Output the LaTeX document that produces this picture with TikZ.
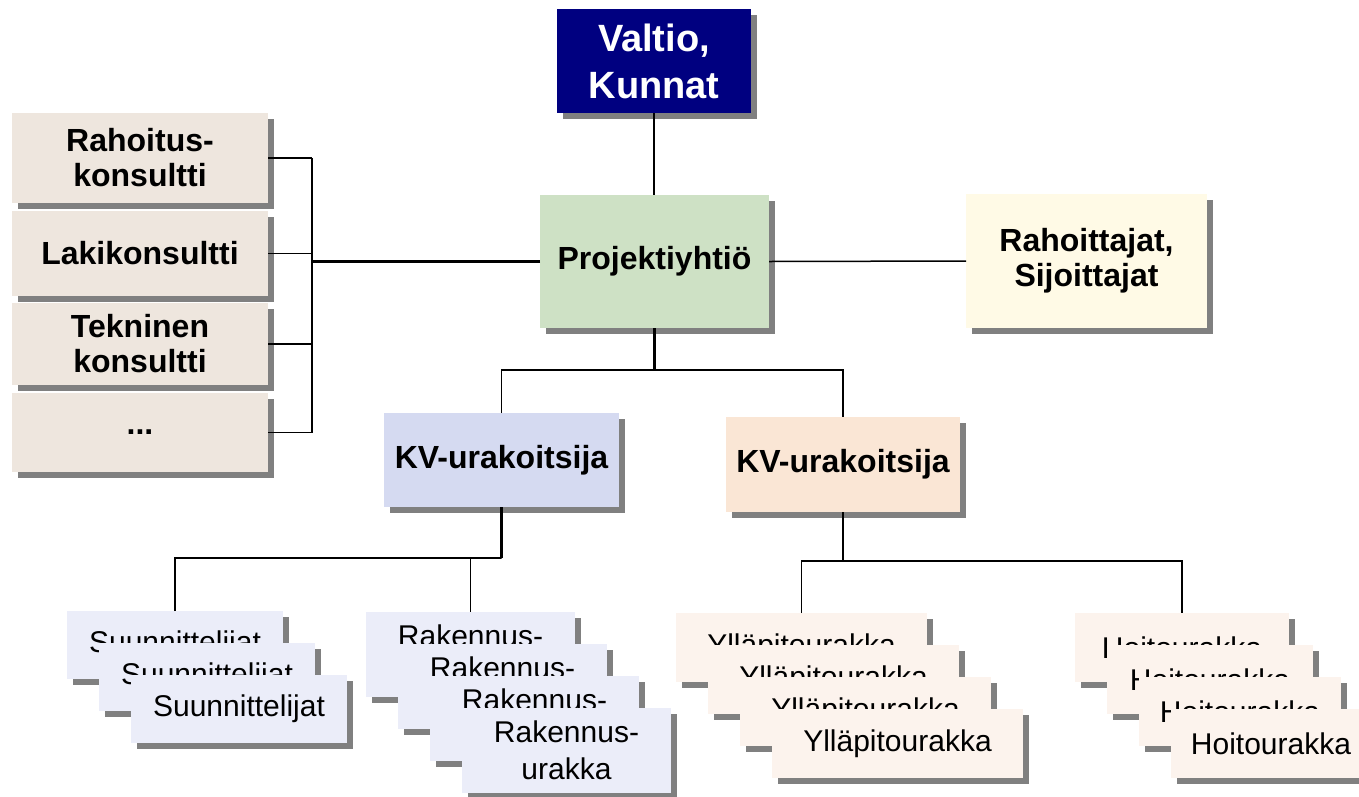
\documentclass[tikz,border=0pt]{standalone}
\usepackage{fontspec}
\setmainfont{Liberation Sans}
\usetikzlibrary{shadows}
\definecolor{valtioblue}{RGB}{0,0,128}
\definecolor{projgreen}{RGB}{206,225,197}
\definecolor{konsbeige}{RGB}{238,230,222}
\definecolor{rahyellow}{RGB}{255,250,230}
\definecolor{kvblue}{RGB}{213,218,241}
\definecolor{kvpeach}{RGB}{250,230,213}
\definecolor{subblue}{RGB}{235,237,249}
\definecolor{subpeach}{RGB}{252,243,237}
\tikzset{
  box/.style={inner sep=0pt,outer sep=0pt,align=center,
    drop shadow={shadow xshift=6pt,shadow yshift=-6pt,fill=black!50,opacity=1}},
  bigbox/.style={box,font=\fontsize{32}{35}\selectfont\bfseries},
  subbox/.style={box,font=\fontsize{30}{37}\selectfont},
  tie/.style={line width=1.5pt},
  maintie/.style={line width=2.5pt}
}

\begin{document}
\begin{tikzpicture}[x=1pt,y=-1pt]
\useasboundingbox (0,0) rectangle (1359,796);
% top of the tree
\node[bigbox,fill=valtioblue,text=white,font=\fontsize{38}{47}\selectfont\bfseries,
  minimum width=194pt,minimum height=104pt] (valtio) at (654,61) {Valtio,\\Kunnat};
\node[bigbox,fill=projgreen,minimum width=229pt,minimum height=133pt] (proj) at (654.5,261.5) {Projektiyhtiö};
\node[bigbox,fill=rahyellow,minimum width=241pt,minimum height=134pt] (rah) at (1086.5,261) {Rahoittajat,\\Sijoittajat};
% consultants
\node[bigbox,fill=konsbeige,minimum width=256pt,minimum height=90pt] (k1) at (140,158) {Rahoitus-\\konsultti};
\node[bigbox,fill=konsbeige,minimum width=256pt,minimum height=85pt] (k2) at (140,253.5) {Lakikonsultti};
\node[bigbox,fill=konsbeige,minimum width=256pt,minimum height=82pt] (k3) at (140,344) {Tekninen\\konsultti};
\node[bigbox,fill=konsbeige,minimum width=256pt,minimum height=79pt] (k4) at (140,432.5) {...};
\coordinate (brk) at (312,0);
% contractors
\node[bigbox,fill=kvblue,minimum width=235pt,minimum height=94pt] (kvA) at (501.5,460) {KV-urakoitsija};
\node[bigbox,fill=kvpeach,minimum width=234pt,minimum height=95pt] (kvB) at (843,464.5) {KV-urakoitsija};
% stacks of sub-contracts
\foreach \i in {0,...,2}
  \node[subbox,fill=subblue,minimum width=216pt,minimum height=68pt] (s\i) at (175+32*\i,645+32*\i) {Suunnittelijat};
\foreach \i in {0,...,3}
  \node[subbox,fill=subblue,minimum width=209pt,minimum height=85pt] (r\i) at (470.5+32*\i,654.5+32*\i) {Rakennus-\\urakka};
\foreach \i in {0,...,3}
  \node[subbox,fill=subpeach,minimum width=251pt,minimum height=69pt] (y\i) at (801.5+32*\i,647.5+32*\i) {Ylläpitourakka};
\foreach \i/\w in {0/214,1/206,2/202,3/200}
  \node[subbox,fill=subpeach,minimum width=\w pt,minimum height=69pt] (h\i) at ({1075+32*\i+\w/2},{647.5+32*\i}) {Hoitourakka};
% connectors
\draw[tie] (valtio.south) -- (valtio.south |- proj.north);
\draw[tie] (proj.east) -- (rah.west);
\draw[maintie] (proj.west) -- (proj.west -| brk);
\foreach \k in {k1,k2,k3,k4} \draw[tie] (\k.east) -- (\k.east -| brk);
\draw[tie] (k1.east -| brk) -- (k4.east -| brk);
\draw[maintie] (proj.south) -- ++(0,42) coordinate (projj);
\draw[tie] (kvA.north) |- (projj) -| (kvB.north);
\draw[maintie] (kvA.south) -- ++(0,51) coordinate (kvAj);
\draw[tie] (s0.north) |- (kvAj) -| (r0.north);
\draw[maintie] (kvB.south) -- ++(0,49) coordinate (kvBj);
\draw[tie] (y0.north) |- (kvBj) -| (h0.north);
\end{tikzpicture}
\end{document}
